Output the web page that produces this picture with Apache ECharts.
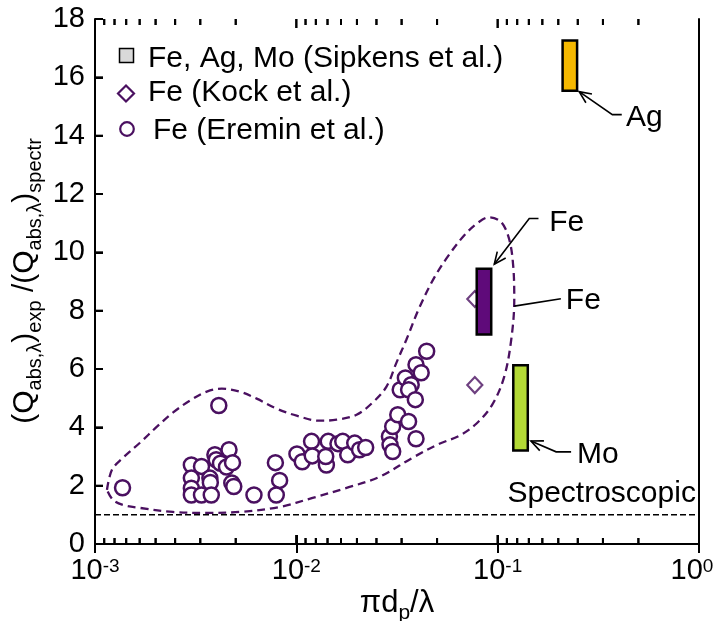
<!DOCTYPE html>
<html><head><meta charset="utf-8">
<script src="https://cdn.jsdelivr.net/npm/echarts@6/dist/echarts.min.js"></script>
<style>html,body{margin:0;padding:0;background:#fff}#c{width:715px;height:621px}</style>
</head><body><div id="c"></div>
<script>
const FONT = '"Liberation Sans", Arial, Helvetica, sans-serif';
const PURPLE = '#4a1060';

// Axis ranges / ticks
const xMin = 0.001, xMax = 1;
const yMin = 0, yMax = 18, yStep = 2;
const decades = [0.001, 0.01, 0.1];
const minorDivisors = [2, 3, 4, 5, 6, 7, 8, 9];
const majorXTicks = [0.01, 0.1];

// Eremin et al. (circles)
const eremX = [0.00137,0.00412,0.00301,0.00301,0.00301,0.00301,0.00338,0.00338,0.00372,0.00374,0.00378,0.00394,0.0040,0.0042,0.00463,0.0045,0.00482,0.00478,0.00489,0.00616,0.00787,0.00826,0.00795,
  0.01007,0.0107,0.0119,0.0120,0.0141,0.0144,0.0140,0.0161,0.0170,0.0180,0.0195,0.0206,0.0221,0.0290,0.0292,0.0301,0.0301,0.0319,0.0361,0.0393,0.0328,0.0348,0.0372,0.0361,0.0390,0.0393,0.0417,0.0444];
const eremY = [1.93,4.75,2.71,2.26,1.91,1.68,2.66,1.68,2.26,2.11,1.68,3.06,2.89,2.77,3.23,2.64,2.79,2.09,1.97,1.68,2.79,2.18,1.68,
  3.09,2.82,3.52,3.02,2.71,3.52,3.00,3.44,3.52,3.06,3.46,3.23,3.31,3.69,3.40,3.17,4.03,4.43,4.20,3.61,5.29,5.69,5.46,5.29,4.95,6.15,5.87,6.61];

// Kock et al. (diamonds)
const kockX = [0.077, 0.077];
const kockY = [8.4, 5.45];

// Sipkens et al. (bars: range)
const sipName = ['Fe', 'Mo', 'Ag'];
const sipX = [0.0855, 0.1299, 0.2283];
const sipLow = [7.18, 3.21, 15.54];
const sipHigh = [9.44, 6.13, 17.26];
const sipColor = ['#5f0a7a', '#b3d935', '#f5b800'];

// Envelope (dashed closed curve)
const envX = [0.001147,0.001214,0.001377,0.001672,0.00203,0.002436,0.002958,0.003592,0.004264,0.005236,0.006357,0.007986,0.010035,0.01305,0.01585,0.01991,0.02389,0.02804,0.03143,0.03523,0.04087,0.0485,0.05754,0.0683,0.07923,0.09085,0.1042,0.1141,0.1195,0.1209,0.1168,0.1078,0.09402,0.07832,0.0645,0.05134,0.03772,0.02588,0.01776,0.01205,0.008264,0.005236,0.003592,0.002436,0.001672,0.001377,0.001228,0.001147];
const envY = [1.856,2.543,2.955,3.471,4.021,4.502,4.914,5.223,5.326,5.223,4.983,4.639,4.399,4.227,4.261,4.433,4.845,5.395,6.22,7.01,8.11,9.141,9.931,10.584,11.0,11.203,11.031,10.447,9.519,8.385,7.01,5.739,4.777,4.124,3.711,3.436,2.955,2.302,1.924,1.581,1.271,1.1,1.065,1.1,1.237,1.34,1.512,1.856];

// Spectroscopic reference
const specY = 1;

// Annotations (data coordinates)
const annos = [
  {pts: [[0.2540,15.51],[0.3713,14.72],[0.4134,14.72]], arrow: true, label: 'Ag', at: [0.4344,14.6]},
  {pts: [[0.0962,9.59],[0.1435,11.16],[0.1595,11.16]], arrow: true, label: 'Fe', at: [0.1803,11.03]},
  {pts: [[0.1209,8.155],[0.2060,8.41]], arrow: false, label: 'Fe', at: [0.2181,8.33]},
  {pts: [[0.1463,3.53],[0.1952,3.16],[0.2316,3.16]], arrow: true, label: 'Mo', at: [0.2481,3.06]}
];
const specLabel = {text: 'Spectroscopic', at: [0.965, 1.72]};

const minorXTicks = [];
decades.forEach(d => minorDivisors.forEach(k => minorXTicks.push(d * 10 / k)));
const yTickVals = [];
for (let v = yMin + yStep; v < yMax; v += yStep) yTickVals.push(v);

const chart = echarts.init(document.getElementById('c'), null, {renderer: 'canvas'});

const labelRich = {
  b: {fontSize: 29, fontFamily: FONT, color: '#000', lineHeight: 29, verticalAlign: 'top'},
  s: {fontSize: 19, fontFamily: FONT, color: '#000', lineHeight: 19, verticalAlign: 'top', padding: [1, 0, 0, 0]},
  e: {fontSize: 19, fontFamily: FONT, color: '#000', lineHeight: 19, verticalAlign: 'top', padding: [1, 14, 0, 0]}
};

const tickSeries = (data, size, offset) => ({
  type: 'scatter', silent: true, clip: false, z: 20, symbol: 'rect',
  symbolSize: size, symbolOffset: offset, data: data,
  itemStyle: {color: '#000', opacity: 1}, emphasis: {disabled: true}
});
const tickLine = {stroke: '#000', lineWidth: 2};

const option = {
  animation: false,
  backgroundColor: '#fff',
  grid: {left: 95, right: 16, top: 19, bottom: 77, containLabel: false, outerBoundsMode: 'none'},
  xAxis: [{
    type: 'log', logBase: 10, min: xMin, max: xMax, splitNumber: 3,
    axisLine: {show: true, lineStyle: {color: '#000', width: 2}},
    axisTick: {show: true, inside: true, length: 9, lineStyle: {color: '#000', width: 2}},
    minorTick: {show: false}, splitLine: {show: false},
    axisLabel: {
      show: true, margin: 12, hideOverlap: false, showMinLabel: true, showMaxLabel: true,
      formatter: function (v) {
        const e = Math.round(Math.log10(v));
        return e === 0 ? '{b|10}{e|0}' : '{b|10}{s|' + e + '}';
      },
      rich: labelRich
    }
  }, {
    type: 'log', logBase: 10, min: xMin, max: xMax, splitNumber: 3, position: 'top',
    axisLine: {show: true, lineStyle: {color: '#000', width: 2}},
    axisTick: {show: true, inside: true, length: 9, lineStyle: {color: '#000', width: 2}},
    splitLine: {show: false}, axisLabel: {show: false}
  }],
  yAxis: [{
    type: 'value', min: yMin, max: yMax, interval: yStep,
    axisLine: {show: true, lineStyle: {color: '#000', width: 2}},
    axisTick: {show: true, inside: true, length: 8, lineStyle: {color: '#000', width: 2}},
    splitLine: {show: false},
    axisLabel: {show: true, margin: 10, fontSize: 29, fontFamily: FONT, color: '#000'}
  }, {
    type: 'value', min: yMin, max: yMax, interval: yStep, position: 'right',
    axisLine: {show: true, lineStyle: {color: '#000', width: 2}},
    axisTick: {show: false}, splitLine: {show: false}, axisLabel: {show: false}
  }],
  series: [
    {
      type: 'custom', name: 'xticks', silent: true, clip: false, z: 10,
      data: minorXTicks.map(v => [v, yMin, 6]).concat(majorXTicks.map(v => [v, yMin, 9])),
      renderItem: function (params, api) {
        const p = api.coord([api.value(0), yMin]);
        const q = api.coord([api.value(0), yMax]);
        const len = api.value(2);
        return {type: 'group', children: [
          {type: 'line', shape: {x1: p[0], y1: p[1], x2: p[0], y2: p[1] - len}, style: tickLine},
          {type: 'line', shape: {x1: q[0], y1: q[1], x2: q[0], y2: q[1] + len}, style: tickLine}
        ]};
      }
    },
    tickSeries(minorXTicks.map(v => [v, yMin]), [2, 6], [0, -3]),
    tickSeries(minorXTicks.map(v => [v, yMax]), [2, 6], [0, 3]),
    tickSeries(majorXTicks.map(v => [v, yMin]), [2, 9], [0, -4.5]),
    tickSeries(majorXTicks.map(v => [v, yMax]), [2, 9], [0, 4.5]),
    tickSeries(yTickVals.map(v => [xMin, v]), [8, 2], [4, 0]),
    {
      type: 'line', name: 'spectroscopic', silent: true, symbol: 'none', z: 2,
      data: [[xMin, specY], [xMax, specY]],
      lineStyle: {color: '#000', width: 1.5, type: [6, 3]}
    },
    {
      type: 'line', name: 'envelope', silent: true, symbol: 'none', smooth: 0.35, z: 3,
      data: envX.map((x, i) => [x, envY[i]]),
      lineStyle: {color: PURPLE, width: 2.3, type: [8, 5]}
    },
    {
      type: 'scatter', name: 'Fe (Eremin et al.)', z: 4,
      data: eremX.map((x, i) => [x, eremY[i]]),
      symbol: 'circle', symbolSize: 15,
      itemStyle: {color: '#fff', borderColor: PURPLE, borderWidth: 2.5, opacity: 1}
    },
    {
      type: 'scatter', name: 'Fe (Kock et al.)', z: 4,
      data: kockX.map((x, i) => [x, kockY[i]]),
      symbol: 'diamond', symbolSize: [15, 16],
      itemStyle: {color: '#fff', borderColor: PURPLE, borderWidth: 2.2}
    },
    {
      type: 'custom', name: 'Fe, Ag, Mo (Sipkens et al.)', z: 5,
      data: sipX.map((x, i) => [x, sipLow[i], sipHigh[i], i]),
      renderItem: function (params, api) {
        const x = api.value(0), lo = api.value(1), hi = api.value(2), idx = api.value(3);
        const top = api.coord([x, hi]);
        const bot = api.coord([x, lo]);
        const w = 14.5;
        return {type: 'rect', shape: {x: top[0] - w / 2, y: top[1], width: w, height: bot[1] - top[1]},
          style: {fill: sipColor[idx], stroke: '#000', lineWidth: 2.5}};
      }
    }
  ]
};
chart.setOption(option);

const toPx = p => chart.convertToPixel({xAxisIndex: 0, yAxisIndex: 0}, p);

// Graphics: legend, axis titles, annotations
const els = [];
const txt = (x, y, text, extra) => Object.assign({type: 'text', x: x, y: y, z: 100,
  style: Object.assign({text: text, fontSize: 30, fontFamily: FONT, fill: '#000', align: 'left', verticalAlign: 'middle'}, extra || {})});

// legend
els.push({type: 'rect', z: 100, shape: {x: 119.5, y: 48.5, width: 14, height: 14}, style: {fill: '#d9d9d9', stroke: '#000', lineWidth: 1.5}});
els.push(txt(148, 59, 'Fe, Ag, Mo (Sipkens et al.)'));
els.push({type: 'polygon', z: 100, shape: {points: [[126, 85.5], [134, 93.5], [126, 101.5], [118, 93.5]]}, style: {fill: '#fff', stroke: PURPLE, lineWidth: 2.2}});
els.push(txt(148, 93, 'Fe (Kock et al.)'));
els.push({type: 'circle', z: 100, shape: {cx: 127, cy: 129, r: 6.8}, style: {fill: '#fff', stroke: PURPLE, lineWidth: 2.2}});
els.push(txt(153, 131, 'Fe (Eremin et al.)'));

// axis titles
els.push({type: 'text', x: 397, y: 603, z: 100, style: {
  text: '{m|πd}{s|p}{m|/λ}', align: 'center', verticalAlign: 'middle',
  rich: {m: {fontSize: 31, fontFamily: FONT, fill: '#000', lineHeight: 31, verticalAlign: 'top'},
         s: {fontSize: 21, fontFamily: FONT, fill: '#000', lineHeight: 21, verticalAlign: 'top', padding: [15, 0, 0, 0]}}
}});
els.push({type: 'text', x: 25, y: 281, rotation: Math.PI / 2, z: 100, style: {
  text: '{m|(Q}{s|abs,λ}{m|)}{s|exp}{m| /(Q}{s|abs,λ}{m|)}{s|spectr}', align: 'center', verticalAlign: 'middle',
  rich: {m: {fontSize: 30, fontFamily: FONT, fill: '#000', lineHeight: 30, verticalAlign: 'top'},
         s: {fontSize: 20, fontFamily: FONT, fill: '#000', lineHeight: 20, verticalAlign: 'top', padding: [15, 0, 0, 0]}}
}});

// annotations
annos.forEach(a => {
  const pp = a.pts.map(toPx);
  els.push({type: 'polyline', z: 100, shape: {points: pp}, style: {stroke: '#000', lineWidth: 1.6, fill: null}});
  if (a.arrow) {
    const tip = pp[0], from = pp[1];
    const ang = Math.atan2(from[1] - tip[1], from[0] - tip[0]);
    const L = 13, h = 0.42;
    els.push({type: 'polyline', z: 100, shape: {points: [
      [tip[0] + L * Math.cos(ang + h), tip[1] + L * Math.sin(ang + h)], tip,
      [tip[0] + L * Math.cos(ang - h), tip[1] + L * Math.sin(ang - h)]]},
      style: {stroke: '#000', lineWidth: 1.6, fill: null}});
  }
  const t = toPx(a.at);
  els.push(txt(t[0], t[1], a.label));
});
const sp = toPx(specLabel.at);
els.push(txt(sp[0], sp[1], specLabel.text, {align: 'right'}));

chart.setOption({graphic: {elements: els}});
</script>
</body></html>
